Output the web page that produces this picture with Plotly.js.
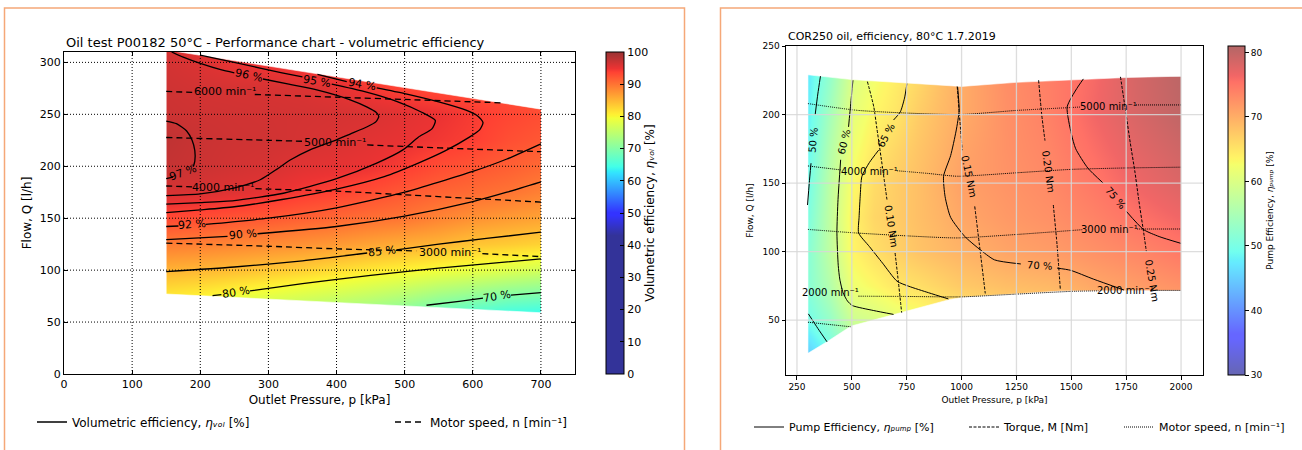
<!DOCTYPE html>
<html><head><meta charset="utf-8">
<script src="https://cdn.plot.ly/plotly-3.0.1.min.js"></script>
<style>html,body{margin:0;padding:0;background:#fff}</style>
</head><body><div id="chart" style="width:1302px;height:450px"></div>
<script>
// ================= DATA : left chart (volumetric efficiency, 50 °C) =================
const volP = [150,200,250,300,350,400,450,500,550,600,650,700];           // outlet pressure grid [kPa]
const volQ = [50,75,100,125,150,175,200,225,250,275,300,325];             // flow grid [l/h]
const volEff = [                                                           // rows follow volQ, columns follow volP
  [76.5,75.9,74.2,72.9,71.6,70.7,69.5,67.5,64.9,63.3,61.8,61.3],
  [81.1,80.4,79.3,78.3,77.3,76.4,75.3,74.0,72.2,71.0,69.7,69.0],
  [85.2,84.9,84.4,83.7,83.0,82.0,81.1,80.3,79.4,78.6,77.7,76.7],
  [89.3,89.0,88.6,88.2,87.7,87.1,86.3,85.6,85.0,83.9,83.4,82.8],
  [93.2,92.9,92.4,92.0,91.4,90.9,90.3,89.8,88.7,87.7,87.0,86.4],
  [96.2,96.05,95.7,95.2,94.3,93.7,92.9,92.0,91.2,90.6,90.0,89.0],
  [97.3,96.9,96.5,96.2,95.6,95.3,94.95,94.05,93.0,92.3,91.6,90.8],
  [97.6,97.0,96.7,96.6,96.3,96.0,95.5,95.1,94.5,93.95,92.8,92.1],
  [96.9,96.7,96.6,96.5,96.4,96.3,96.05,95.5,94.95,94.2,93.5,92.9],
  [96.7,96.4,96.3,96.2,96.0,95.35,94.3,93.6,93.2,93.0,92.8,92.6],
  [96.4,95.9,95.0,94.5,93.9,93.5,93.2,93.0,92.8,92.6,92.4,92.2],
  [96.0,94.5,94.2,93.8,93.4,93.1,92.9,92.7,92.5,92.3,92.1,92.0]
];
const volTopP = [150,700], volTopQ = [312,255];   // edge of measured region
const volBotP = [150,700], volBotQ = [77,59];
// efficiency iso-lines (null = gap for inline label)
const volLines = [
  {p:[150,165,180,188,192,192,190,null,160,150], q:[243.5,241,234,225,215,205,200,null,189.5,188]},
  {p:[158,175,200,230,250,null,292,330,371,420,445,458,462,458,445,420,400,361,332,312,288,249,200,150],
   q:[310,305,299,293,290,null,284,279,273.5,264,257,252,248,243,238,231,225.4,215.8,206,197,187,179,173.4,171.8]},
  {p:[200,260,320,350,null,393,440,490,525,545,540,520,498,459,400,322,250,200,150],
   q:[307,298.5,290,286,null,279,272,262,252,244,236,228,216,203,188,174,167,165,163.5]},
  {p:[372,400,415,null,459,500,550,590,608,615,610,595,560,520,470,400,320,250,200,150],
   q:[288.5,284,281.5,null,275.5,270,262,254,248,242,235,228,215,203,190,178,168,161,158,155.4]},
  {p:[150,168,null,208,300,400,500,600,650,700], q:[142,142.5,null,144,150,160,175,195,207,221.6]},
  {p:[150,240,null,284,400,500,600,650,700], q:[129.4,132.5,null,135,142,152,166,175,185]},
  {p:[150,250,350,445,null,488,550,620,700], q:[98.6,103,109,116.5,null,119.5,125,130.5,136.5]},
  {p:[218,231,null,273,350,450,550,700], q:[75.4,76.4,null,80,87,95,102,110.8]},
  {p:[532,580,615,null,656,700], q:[66.2,70,73,null,76,78.3]}
];
const volLabels = [
  {t:'97 %', p:175, q:194, a:-20}, {t:'96 %', p:271, q:287.4, a:12}, {t:'95 %', p:371, q:281.6, a:10},
  {t:'94 %', p:437, q:278.4, a:10}, {t:'92 %', p:188, q:143.5, a:-4}, {t:'90 %', p:262, q:134, a:-5},
  {t:'85 %', p:466, q:118, a:-7}, {t:'80 %', p:252, q:78.5, a:-9}, {t:'70 %', p:635, q:75, a:-9}
];
// motor speed lines
const volSpeed = [
  {p:[150,192,null,280,400,500,645], q:[272,271.1,null,269.1,266.5,264.3,261]},
  {p:[150,300,353,null,445,500,600,700], q:[227.7,225,224,null,220.5,219,216.5,214]},
  {p:[150,188,null,281,300,400,500,600,700], q:[181,180.2,null,178.4,178,176,172.5,169,165.5]},
  {p:[150,300,400,517,null,614,700], q:[126,123,120.5,118.5,null,115.8,113]}
];
const volSpeedLabels = [
  {t:'6000 min⁻¹', p:236, q:271.5}, {t:'5000 min⁻¹', p:398, q:222.5},
  {t:'4000 min⁻¹', p:234, q:179.5}, {t:'3000 min⁻¹', p:566, q:117}
];
const volXTicks = [0,100,200,300,400,500,600,700];
const volYTicks = [0,50,100,150,200,250,300];
const volColorTicks = [0,10,20,30,40,50,60,70,80,90,100];

// ================= DATA : right chart (pump efficiency, 80 °C) =================
const pumpP = [300,400,500,600,700,800,900,1000,1200,1400,1600,1800,2000];
const pumpQ = [25,50,75,100,125,150,175,200,225,250];
const pumpEff = [   // rows follow pumpQ, columns follow pumpP
  [45,49,54,56,58,59,60,61,63,64,65,66,67],
  [49.5,53,58.5,59.5,61,62,63,64,65.5,66.5,67.5,68.5,70],
  [51.5,56,62,63.3,64.8,65.5,66.5,67.5,68.5,69,70.5,71.5,72.5],
  [51.5,57.2,63.5,65.5,66.8,68,68.8,69.5,70.8,71.5,72.5,73.5,74.7],
  [50.5,57.3,63.8,66.3,67.3,68.4,69.4,70.6,71.8,72.6,73.8,75.3,76.5],
  [49.5,56.9,63,65.8,67.2,68.4,69.8,71.2,72.3,73.2,74.8,76.6,78],
  [48.5,55.9,62,64.7,66.3,67.9,69.3,70.8,72.5,73.6,75.6,77.5,79],
  [48,54.5,61,63.5,65,67.2,68.8,70.2,72.6,74,76.3,78.3,80],
  [47.5,52.9,60,62.5,64.3,66.2,68.3,70.1,72.8,74.2,76,78.5,80.3],
  [47,52,59.5,62,64,66,68.2,70.2,73,74.6,76.5,78.7,80.5]
];
const pumpTopP = [300,500,750,1000,1250,1500,1750,2000];
const pumpTopQ = [229,225.5,223,220.5,223.5,225.5,227,228];
const pumpBotP = [300,387,497,698,947,1009,1453,2000];
const pumpBotQ = [25.8,34.3,45.7,54.2,65.1,66.8,71.2,71.7];
const pumpLines = [
  {p:[357,345,333,null,314,306,298], q:[228,215,200,null,164.5,150,134]},
  {p:[302,345,387], q:[54.6,44,34.2]},
  {p:[505,495,485,null,449,437,432,438,445,460,480,502,600,690], q:[225,208,191,null,167,138,113.5,90,80,70,64,60.7,57,54.2]},
  {p:[751,740,721,690,null,622,580,546,538,533,531,580,640,706,760,850,940], q:[222.6,212,202,196,null,174,165,155,140,125,113.6,103.7,91.6,78.4,74.7,70,65.5]},
  {p:[982,989,975,950,918,925,950,1015,1080,1150,1270,null,1435,1496,1600,1740], q:[220,203,188,170,155,140,125,111,102,94,91,null,88,86.4,80,72]},
  {p:[1555,1525,1481,1500,1520,1575,1645,null,1750,1830,1900,2000], q:[226,219,205.6,186,175,161,150,null,129.5,116,111,106]}
];
const pumpLabels = [
  {t:'50 %', p:324, q:181, a:-85}, {t:'60 %', p:467, q:180, a:-76}, {t:'65 %', p:655, q:185, a:-62},
  {t:'70 %', p:1353, q:89.8, a:3}, {t:'75 %', p:1700, q:139.5, a:50}
];
const torqueLines = [
  {p:[571,600,614,640,660,null,697,712,727], q:[224,205.6,190,161,138,null,99,78,55.5]},
  {p:[980,990,1003,null,1060,1085,1108], q:[220.5,200,174,null,133,100,69.5]},
  {p:[1351,1365,1380,null,1418,1435,1450], q:[225,200,181,null,134,105,72.3]},
  {p:[1724,1745,1769,1790,1807,1830,1842], q:[227.5,205,179,158,138,113.6,100]}
];
const torqueLabels = [
  {t:'0.10 Nm', p:678, q:118, a:81}, {t:'0.15 Nm', p:1035, q:155, a:78},
  {t:'0.20 Nm', p:1398, q:158, a:82}, {t:'0.25 Nm', p:1868, q:79, a:80}
];
const pumpSpeed = [
  {p:[300,530,990,1250,1545,null,1795,2000], q:[208,203,200,203,205.5,null,207,207]},
  {p:[300,450,null,706,850,980,1250,1500,1740,2000], q:[162.5,159.6,null,159,157,155,157.5,160,161,161.6]},
  {p:[300,520,750,980,1250,1550,null,1800,2000], q:[116.2,113.6,111.5,110,112.5,116,null,116.5,116.5]},
  {p:[530,750,1000,1250,1500,1625,null,1865,2000], q:[67.5,67.3,67,69,71,71.4,null,71.7,71.7]},
  {p:[300,494], q:[48.5,45.2]}
];
const pumpSpeedLabels = [
  {t:'5000 min⁻¹', p:1668, q:206}, {t:'4000 min⁻¹', p:580, q:158.5},
  {t:'3000 min⁻¹', p:1675, q:116}, {t:'2000 min⁻¹', p:405, q:70},
  {t:'2000 min⁻¹', p:1745, q:71.7}
];
const pumpXTicks = [250,500,750,1000,1250,1500,1750,2000];
const pumpYTicks = [50,100,150,200,250];
const pumpColorTicks = [30,40,50,60,70,80];

// ================= STYLE HELPERS =================
const W = 1302, H = 450;
const px = v => v / W, py = v => 1 - v / H;
const FONT = 'DejaVu Sans, sans-serif';

// matplotlib "jet", blended with white (alpha); colours below `low` (fraction of the bar) stay at jet(0)
function jetScale(alpha, low) {
  const R = [[0,0],[0.35,0],[0.66,1],[0.89,1],[1,0.5]];
  const G = [[0,0],[0.125,0],[0.375,1],[0.64,1],[0.91,0],[1,0]];
  const B = [[0,0.5],[0.11,1],[0.34,1],[0.65,0],[1,0]];
  const f = (s, t) => { for (let i = 1; i < s.length; i++) if (t <= s[i][0]) {
      const [t0,v0] = s[i-1], [t1,v1] = s[i]; return v0 + (v1 - v0) * (t - t0) / (t1 - t0); } return s[s.length-1][1]; };
  const ts = [0,0.11,0.125,0.2,0.34,0.35,0.375,0.5,0.64,0.65,0.66,0.78,0.89,0.91,1];
  const c = v => Math.round(alpha * v * 255 + (1 - alpha) * 255);
  const col = t => `rgb(${c(f(R,t))},${c(f(G,t))},${c(f(B,t))})`;
  const out = [];
  if (low > 0) out.push([0, col(0)]);
  ts.forEach(t => out.push([low + t * (1 - low), col(t)]));
  return out;
}

function maskTrace(xa, ya, topP, topQ, botP, botQ) {
  const x0 = -1000, x1 = 5000, y0 = -1000, y1 = 1000;
  const pL = topP[0], pR = topP[topP.length - 1];
  const xs = [x0,pL,pL,x0,null, pR,x1,x1,pR,null, ...topP,pR,pL,null, ...botP,pR,pL];
  const ys = [y0,y0,y1,y1,null, y0,y0,y1,y1,null, ...topQ,y1,y1,null, ...botQ,y0,y0];
  return {type:'scatter', mode:'lines', x:xs, y:ys, xaxis:xa, yaxis:ya, fill:'toself',
          fillcolor:'#ffffff', line:{width:0.6, color:'#ffffff'}, hoverinfo:'skip', showlegend:false};
}

const traces = [];
traces.push({type:'heatmap', x:volP, y:volQ, z:volEff, zsmooth:'best', coloraxis:'coloraxis',
             xaxis:'x', yaxis:'y', hoverinfo:'skip'});
traces.push(maskTrace('x','y', volTopP, volTopQ, volBotP, volBotQ));
traces.push({type:'heatmap', x:pumpP, y:pumpQ, z:pumpEff, zsmooth:'best', coloraxis:'coloraxis2',
             xaxis:'x2', yaxis:'y2', hoverinfo:'skip'});
traces.push(maskTrace('x2','y2', pumpTopP, pumpTopQ, pumpBotP, pumpBotQ));

function addLines(list, xa, ya, line, legendName, legendId) {
  list.forEach((l, i) => traces.push({
    type:'scatter', mode:'lines', x:l.p, y:l.q, xaxis:xa, yaxis:ya, line:Object.assign({shape:'spline', smoothing:0.6}, line),
    connectgaps:false, hoverinfo:'skip', name:legendName, legend:legendId, legendgroup:legendId,
    showlegend: i === 0
  }));
}
addLines(volLines, 'x','y', {color:'#000', width:1.3}, 'Volumetric efficiency, <i>ηᵥₒₗ</i> [%]', 'legend');
addLines(volSpeed, 'x','y', {color:'#000', width:1.3, dash:'6px,4px'}, 'Motor speed, n [min⁻¹]', 'legend2');
addLines(pumpLines, 'x2','y2', {color:'#000', width:1}, 'Pump Efficiency, <i>ηₚᵤₘₚ</i> [%]', 'legend3');
addLines(torqueLines, 'x2','y2', {color:'#000', width:1, dash:'3px,1.5px'}, 'Torque, M [Nm]', 'legend4');
addLines(pumpSpeed, 'x2','y2', {color:'#000', width:1, dash:'1px,1px'}, 'Motor speed, n [min⁻¹]', 'legend5');

const annotations = [];
const lab = (arr, xr, yr, size, rot) => arr.forEach(o => annotations.push({
  xref:xr, yref:yr, x:o.p, y:o.q, text:o.t, showarrow:false, textangle: rot ? o.a : 0,
  font:{size:size, color:'#000', family:FONT}, xanchor:'center', yanchor:'middle'}));
lab(volLabels, 'x','y', 11, true);
lab(volSpeedLabels, 'x','y', 11, false);
lab(pumpLabels, 'x2','y2', 10, true);
lab(torqueLabels, 'x2','y2', 10, true);
lab(pumpSpeedLabels, 'x2','y2', 10, false);
annotations.push({xref:'paper', yref:'paper', x:px(64), y:py(42), xanchor:'left', yanchor:'middle', showarrow:false,
  text:'Oil test P00182 50°C - Performance chart - volumetric efficiency', font:{size:13, color:'#000', family:FONT}});
annotations.push({xref:'paper', yref:'paper', x:px(786), y:py(37), xanchor:'left', yanchor:'middle', showarrow:false,
  text:'COR250 oil, efficiency, 80°C 1.7.2019', font:{size:11, color:'#000', family:FONT}});

const shapes = [];
volXTicks.slice(1).forEach(v => shapes.push({type:'line', xref:'x', yref:'y domain', x0:v, x1:v, y0:0, y1:1, layer:'above', line:{color:'#000', width:1, dash:'1px,2px'}}));
volYTicks.slice(1).forEach(v => shapes.push({type:'line', xref:'x domain', yref:'y', x0:0, x1:1, y0:v, y1:v, layer:'above', line:{color:'#000', width:1, dash:'1px,2px'}}));
pumpXTicks.forEach(v => shapes.push({type:'line', xref:'x2', yref:'y2 domain', x0:v, x1:v, y0:0, y1:1, layer:'above', line:{color:'rgba(215,215,215,0.85)', width:1.3}}));
pumpYTicks.slice(0,-1).forEach(v => shapes.push({type:'line', xref:'x2 domain', yref:'y2', x0:0, x1:1, y0:v, y1:v, layer:'above', line:{color:'rgba(215,215,215,0.85)', width:1.3}}));
// page panels (orange frames)
const ORANGE = 'rgb(245,168,120)';
shapes.push({type:'path', xref:'paper', yref:'paper', path:`M${px(4.5)},0 L${px(4.5)},${py(8)} L${px(684.5)},${py(8)} L${px(684.5)},0`, line:{color:ORANGE, width:1.5}});
shapes.push({type:'path', xref:'paper', yref:'paper', path:`M${px(720.5)},0 L${px(720.5)},${py(8)} L1.01,${py(8)}`, line:{color:ORANGE, width:1.5}});

const axBase = {showline:true, linecolor:'#000', linewidth:1, zeroline:false, showgrid:false, layer:'above traces', tickcolor:'#000'};
const layout = {
  width:W, height:H, margin:{l:0, r:0, t:0, b:0}, paper_bgcolor:'#fff', plot_bgcolor:'#fff',
  font:{family:FONT, color:'#000'}, showlegend:true,
  xaxis: Object.assign({}, axBase, {domain:[px(64), px(575)], range:[0,750], tickvals:volXTicks, ticks:'inside', ticklen:4, mirror:'ticks',
      tickfont:{size:11}, anchor:'y', title:{text:'Outlet Pressure, p [kPa]', font:{size:12}, standoff:5}}),
  yaxis: Object.assign({}, axBase, {domain:[1-374/H, 1-52/H], range:[0,310], tickvals:volYTicks, ticks:'inside', ticklen:4, mirror:'ticks',
      tickfont:{size:11}, anchor:'x', title:{text:'Flow, Q [l/h]', font:{size:12}, standoff:5}}),
  xaxis2: Object.assign({}, axBase, {domain:[px(786), px(1203)], range:[200,2100], tickvals:pumpXTicks, ticks:'outside', ticklen:3.5, mirror:true,
      tickfont:{size:9}, anchor:'y2', title:{text:'Outlet Pressure, p [kPa]', font:{size:9}, standoff:5}}),
  yaxis2: Object.assign({}, axBase, {domain:[1-375/H, 1-46/H], range:[10,250], tickvals:pumpYTicks, ticks:'outside', ticklen:3.5, mirror:true,
      tickfont:{size:9}, anchor:'x2', title:{text:'Flow, Q [l/h]', font:{size:9}, standoff:7}}),
  coloraxis: {cmin:0, cmax:100, colorscale:jetScale(0.8, 0.43), colorbar:{
      x:px(606), xanchor:'left', y:py(52), yanchor:'top', len:322/H, lenmode:'fraction', thickness:18, xpad:0, ypad:0,
      outlinewidth:1, outlinecolor:'#000', ticks:'inside', ticklen:4, tickcolor:'#000', tickvals:volColorTicks,
      tickfont:{size:11}, title:{text:'Volumetric efficiency, <i>ηᵥₒₗ</i> [%]', side:'right', font:{size:12}}}},
  coloraxis2: {cmin:30, cmax:81, colorscale:jetScale(0.6, 0), colorbar:{
      x:px(1228), xanchor:'left', y:py(46), yanchor:'top', len:329/H, lenmode:'fraction', thickness:17, xpad:0, ypad:0,
      outlinewidth:1, outlinecolor:'#000', ticks:'outside', ticklen:4, tickcolor:'#000', tickvals:pumpColorTicks,
      tickfont:{size:9}, title:{text:'Pump Efficiency, <i>ηₚᵤₘₚ</i> [%]', side:'right', font:{size:9}}}},
  legend:  {x:px(32), y:py(422), xanchor:'left', yanchor:'middle', bgcolor:'rgba(0,0,0,0)', font:{size:12}},
  legend2: {x:px(390), y:py(422), xanchor:'left', yanchor:'middle', bgcolor:'rgba(0,0,0,0)', font:{size:12}},
  legend3: {x:px(749), y:py(427), xanchor:'left', yanchor:'middle', bgcolor:'rgba(0,0,0,0)', font:{size:11}},
  legend4: {x:px(964), y:py(427), xanchor:'left', yanchor:'middle', bgcolor:'rgba(0,0,0,0)', font:{size:11}},
  legend5: {x:px(1119), y:py(427), xanchor:'left', yanchor:'middle', bgcolor:'rgba(0,0,0,0)', font:{size:11}},
  annotations: annotations, shapes: shapes
};
Plotly.newPlot('chart', traces, layout, {displayModeBar:false, staticPlot:true});
</script></body></html>
